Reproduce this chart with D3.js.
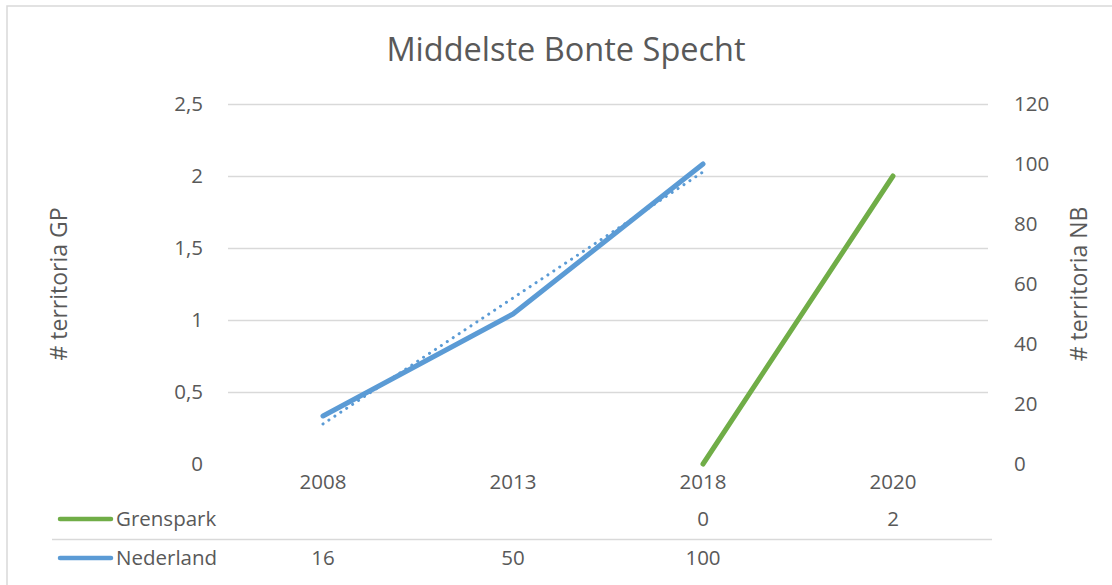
<!DOCTYPE html>
<html>
<head>
<meta charset="utf-8">
<script src="https://cdn.jsdelivr.net/npm/d3@7"></script>
<style>
  body { margin: 0; background: #fff; }
  text { font-family: "Open Sans", "Noto Sans", sans-serif; fill: #595959; }
</style>
</head>
<body>
<script>
// data
var years = ["2008", "2013", "2018", "2020"];
var grenspark = [null, null, 0, 2];      // left axis (# territoria GP)
var nederland = [16, 50, 100, null];     // right axis (# territoria NB)
var leftTicks = [0, 0.5, 1, 1.5, 2, 2.5];
var rightTicks = [0, 20, 40, 60, 80, 100, 120];

var width = 1112, height = 585;
var margin = { top: 104, right: 124, bottom: 121, left: 228 };
var fs = "20.5px";

var svg = d3.select("body").append("svg")
    .attr("width", width)
    .attr("height", height);

// chart frame
svg.append("rect")
    .attr("x", 7).attr("y", 6)
    .attr("width", width + 10).attr("height", height + 10)
    .attr("fill", "none")
    .attr("stroke", "#d9d9d9")
    .attr("stroke-width", 1.5);

var x = d3.scaleBand()
    .domain(years)
    .range([margin.left, width - margin.right]);

var yL = d3.scaleLinear().domain([0, 2.5]).range([height - margin.bottom, margin.top]);
var yR = d3.scaleLinear().domain([0, 120]).range([height - margin.bottom, margin.top]);

var cx = function (i) { return x(years[i]) + x.bandwidth() / 2; };

// title
svg.append("text")
    .attr("x", 566).attr("y", 61)
    .attr("text-anchor", "middle")
    .style("font-size", "32.5px")
    .text("Middelste Bonte Specht");

// gridlines (skip 0, the axis line is not drawn)
svg.append("g").selectAll("line")
    .data(leftTicks.filter(function (d) { return d > 0; }))
    .enter().append("line")
    .attr("x1", margin.left).attr("x2", width - margin.right)
    .attr("y1", function (d) { return Math.round(yL(d)) + 0.5; })
    .attr("y2", function (d) { return Math.round(yL(d)) + 0.5; })
    .attr("stroke", "#d9d9d9")
    .attr("stroke-width", 1.5);

var fmt = function (d) { return String(d).replace(".", ","); };

// left axis labels
svg.append("g").selectAll("text")
    .data(leftTicks)
    .enter().append("text")
    .attr("x", 203)
    .attr("y", function (d) { return yL(d); })
    .attr("dy", "0.35em")
    .attr("text-anchor", "end")
    .style("font-size", fs)
    .text(fmt);

// right axis labels
svg.append("g").selectAll("text")
    .data(rightTicks)
    .enter().append("text")
    .attr("x", 1014)
    .attr("y", function (d) { return yR(d); })
    .attr("dy", "0.35em")
    .attr("text-anchor", "start")
    .style("font-size", fs)
    .text(function (d) { return d; });

// axis titles
svg.append("text")
    .attr("transform", "translate(67,284) rotate(-90)")
    .attr("text-anchor", "middle")
    .style("font-size", "23px")
    .text("# territoria GP");

svg.append("text")
    .attr("transform", "translate(1087,284) rotate(-90)")
    .attr("text-anchor", "middle")
    .style("font-size", "23px")
    .text("# territoria NB");

// category labels
svg.append("g").selectAll("text")
    .data(years)
    .enter().append("text")
    .attr("x", function (d, i) { return cx(i); })
    .attr("y", 482)
    .attr("dy", "0.35em")
    .attr("text-anchor", "middle")
    .style("font-size", fs)
    .text(function (d) { return d; });

// linear trendline for Nederland (least squares on category index)
var pts = nederland.map(function (v, i) { return { i: i, v: v }; })
    .filter(function (d) { return d.v != null; });
var mx = d3.mean(pts, function (d) { return d.i; });
var my = d3.mean(pts, function (d) { return d.v; });
var slope = d3.sum(pts, function (d) { return (d.i - mx) * (d.v - my); }) /
    d3.sum(pts, function (d) { return (d.i - mx) * (d.i - mx); });
var trend = pts.map(function (d) { return { i: d.i, v: my + slope * (d.i - mx) }; });

var lineR = d3.line()
    .defined(function (d) { return d.v != null; })
    .x(function (d) { return cx(d.i); })
    .y(function (d) { return yR(d.v); });

var lineL = d3.line()
    .defined(function (d) { return d.v != null; })
    .x(function (d) { return cx(d.i); })
    .y(function (d) { return yL(d.v); });

svg.append("path")
    .datum(trend)
    .attr("d", lineR)
    .attr("fill", "none")
    .attr("stroke", "#5b9bd5")
    .attr("stroke-width", 3)
    .attr("stroke-linecap", "round")
    .attr("stroke-dasharray", "0.1 7");

svg.append("path")
    .datum(nederland.map(function (v, i) { return { i: i, v: v }; }))
    .attr("d", lineR)
    .attr("fill", "none")
    .attr("stroke", "#5b9bd5")
    .attr("stroke-width", 5)
    .attr("stroke-linecap", "round")
    .attr("stroke-linejoin", "round");

svg.append("path")
    .datum(grenspark.map(function (v, i) { return { i: i, v: v }; }))
    .attr("d", lineL)
    .attr("fill", "none")
    .attr("stroke", "#70ad47")
    .attr("stroke-width", 5)
    .attr("stroke-linecap", "round")
    .attr("stroke-linejoin", "round");

// data table
var rows = [
    { name: "Grenspark", color: "#70ad47", values: grenspark, y: 519 },
    { name: "Nederland", color: "#5b9bd5", values: nederland, y: 558 }
];

svg.append("line")
    .attr("x1", 52).attr("x2", 992)
    .attr("y1", 539.5).attr("y2", 539.5)
    .attr("stroke", "#d9d9d9")
    .attr("stroke-width", 1.5);

rows.forEach(function (r) {
    svg.append("line")
        .attr("x1", 60).attr("x2", 111)
        .attr("y1", r.y).attr("y2", r.y)
        .attr("stroke", r.color)
        .attr("stroke-width", 4.5)
        .attr("stroke-linecap", "round");
    svg.append("text")
        .attr("x", 116).attr("y", r.y)
        .attr("dy", "0.35em")
        .style("font-size", fs)
        .text(r.name);
    svg.append("g").selectAll("text")
        .data(r.values)
        .enter().append("text")
        .filter(function (d) { return d != null; })
        .attr("x", function (d) { return cx(r.values.indexOf(d)); })
        .attr("y", r.y)
        .attr("dy", "0.35em")
        .attr("text-anchor", "middle")
        .style("font-size", fs)
        .text(function (d) { return d; });
});
</script>
</body>
</html>
